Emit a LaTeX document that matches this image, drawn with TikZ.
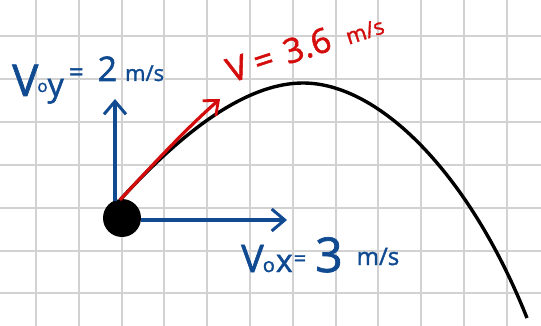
\documentclass[tikz,border=0pt]{standalone}
\usepackage{fontspec}
\setmainfont[FakeBold=1.5]{Open Sans}
\usetikzlibrary{arrows.meta}
\definecolor{hblue}{RGB}{16,74,145}
\definecolor{hred}{RGB}{212,12,12}
\definecolor{gridgray}{RGB}{210,210,210}
\newcommand{\fs}[1]{\fontsize{#1}{#1}\selectfont}
\begin{document}
\begin{tikzpicture}[x=1pt,y=-1pt,
  gridline/.style={draw=gridgray,line width=2pt},
  bluevec/.style={draw=hblue,line width=3.2pt,-{Straight Barb[length=13pt,width=22pt,line width=3pt]}},
  redvec/.style={draw=hred,line width=3.2pt,-{Straight Barb[length=12pt,width=20pt,line width=2.8pt]}},
  traj/.style={draw=black,line width=3.4pt},
  bluelbl/.style={text=hblue,inner sep=0pt,anchor=base west},
  redlbl/.style={text=hred,inner sep=0pt,anchor=base west,rotate=18}]
\useasboundingbox (0,0) rectangle (541,326);
\fill[white] (0,0) rectangle (541,326);
% grid
\foreach \i in {0,...,11} {\draw[gridline] ({36+42.8*\i},0) -- ({36+42.8*\i},326);}
\foreach \j in {0,...,6} {\draw[gridline] (0,{36+42.9*\j}) -- (541,{36+42.9*\j});}
% trajectory
\coordinate (launch) at (120,200);
\coordinate (peak) at (303,83);
\coordinate (land) at (527,318);
\draw[traj] (launch) .. controls (191,122) and (252,83) .. (peak)
  .. controls (380,83) and (470,175) .. (land);
% ball
\node[circle,fill=black,minimum size=38pt,inner sep=0pt] (ball) at (122,218) {};
% vectors
\coordinate (vytip) at (115,99);
\coordinate (vybase) at (115,201);
\coordinate (vxtip) at (287,220);
\draw[bluevec] (vybase) -- (vytip);
\draw[bluevec] (ball.east |- vxtip) -- (vxtip);
\coordinate (vtip) at (220,99);
\draw[redvec] (launch) .. controls (155,162) and (190,125) .. (vtip);
% labels
\node[bluelbl] (voy) at (12,96) {\fs{44}V\kern-1pt\raisebox{4pt}{\fs{17}o}\kern0pt\fs{32}y\hspace{5pt}\raisebox{15pt}{\fs{26}=\hspace{14pt}\fs{34}2\hspace{8pt}\fs{22}m/s}};
\node[bluelbl] (vox) at (241,272) {\fs{38}V\kern-1pt\fs{20}o\kern1pt\fs{32}x\hspace{1pt}\raisebox{6pt}{\fs{22}=}\hspace{9pt}\fs{48}3\hspace{14pt}\raisebox{7pt}{\fs{24}m/s}};
\node[redlbl] (vlbl) at (231,83) {\fs{34}V\hspace{8pt}=\hspace{12pt}3.6\hspace{16pt}\fs{22}m/s};
\end{tikzpicture}
\end{document}
